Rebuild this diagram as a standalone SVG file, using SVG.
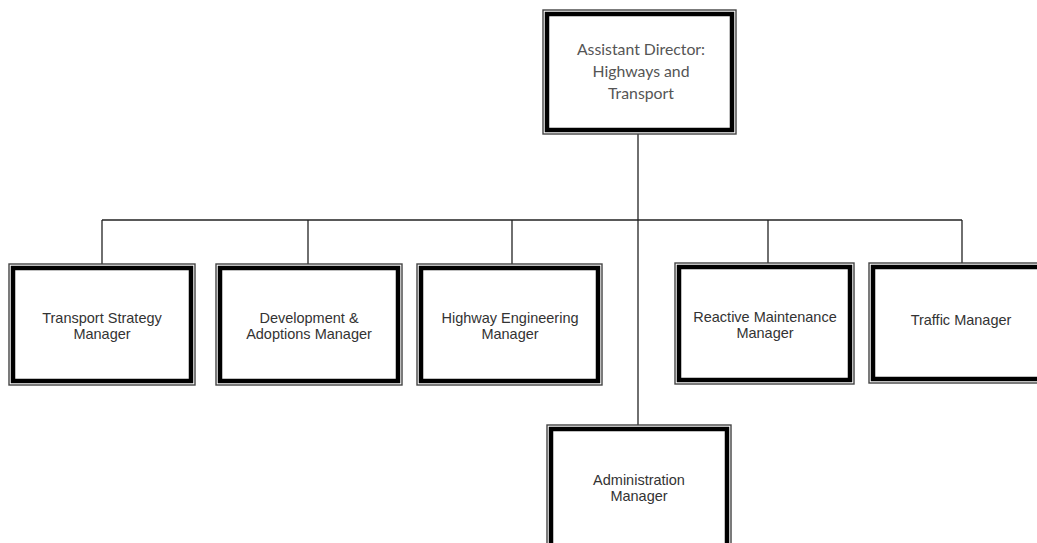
<svg xmlns="http://www.w3.org/2000/svg" width="1037" height="543" viewBox="0 0 1037 543">
<style>
.o{fill:#fff;stroke:#444;stroke-width:1.4}
.i{fill:none;stroke:#000;stroke-width:4.5}
.t{font-family:"Liberation Sans",Arial,sans-serif;font-size:14.5px;fill:#333;text-anchor:middle}
.tc{font-family:Lato,"Open Sans",sans-serif;font-size:15.8px;fill:#555;text-anchor:middle}
.c{stroke:#222;stroke-width:1.3;fill:none}
</style>
<rect width="1037" height="543" fill="#fff"/>
<g id="connectors">
<line class="c" x1="638" y1="134" x2="638" y2="425"/>
<line class="c" x1="102" y1="220" x2="962" y2="220"/>
<line class="c" x1="102" y1="220" x2="102" y2="264"/>
<line class="c" x1="308" y1="220" x2="308" y2="264"/>
<line class="c" x1="512" y1="220" x2="512" y2="264"/>
<line class="c" x1="768" y1="220" x2="768" y2="263"/>
<line class="c" x1="962" y1="220" x2="962" y2="263"/>
</g>
<g id="director">
<rect class="o" x="543" y="10" width="193" height="124"/>
<rect class="i" x="547" y="14" width="185" height="116"/>
<text class="tc" x="641" y="55">Assistant Director:</text>
<text class="tc" x="641" y="77">Highways and</text>
<text class="tc" x="641" y="99">Transport</text>
</g>
<g id="transport-strategy">
<rect class="o" x="9" y="264" width="186" height="121"/>
<rect class="i" x="13" y="268" width="178" height="113"/>
<text class="t" x="102" y="323">Transport Strategy</text>
<text class="t" x="102" y="339">Manager</text>
</g>
<g id="development">
<rect class="o" x="216" y="264" width="186" height="121"/>
<rect class="i" x="220" y="268" width="178" height="113"/>
<text class="t" x="309" y="323">Development &amp;</text>
<text class="t" x="309" y="339">Adoptions Manager</text>
</g>
<g id="highway-engineering">
<rect class="o" x="417" y="264" width="185" height="121"/>
<rect class="i" x="421" y="268" width="177" height="113"/>
<text class="t" x="510" y="323">Highway Engineering</text>
<text class="t" x="510" y="339">Manager</text>
</g>
<g id="reactive-maintenance">
<rect class="o" x="675" y="263" width="179" height="121"/>
<rect class="i" x="679" y="267" width="171" height="113"/>
<text class="t" x="765" y="322">Reactive Maintenance</text>
<text class="t" x="765" y="338">Manager</text>
</g>
<g id="traffic">
<rect class="o" x="869" y="263" width="190" height="120"/>
<rect class="i" x="873" y="267" width="182" height="112"/>
<text class="t" x="961" y="325">Traffic Manager</text>
</g>
<g id="administration">
<rect class="o" x="547" y="425" width="184" height="130"/>
<rect class="i" x="551" y="429" width="176" height="122"/>
<text class="t" x="639" y="485">Administration</text>
<text class="t" x="639" y="501">Manager</text>
</g>
</svg>
